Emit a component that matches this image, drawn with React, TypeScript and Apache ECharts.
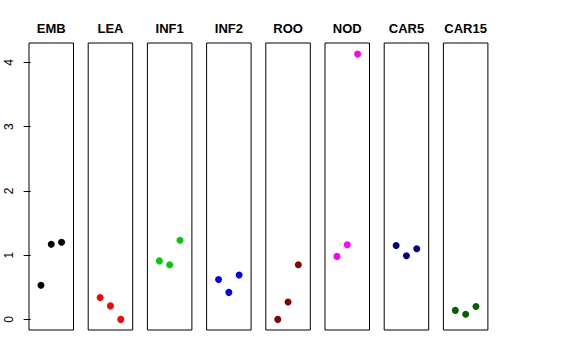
import React, { useEffect, useRef } from "react";
import * as echarts from "echarts";

const categories = ["EMB", "LEA", "INF1", "INF2", "ROO", "NOD", "CAR5", "CAR15"];
const colors = ["#000000", "#FF0000", "#00CD00", "#0000FF", "#8B0000", "#FF00FF", "#00008B", "#006400"];
const xPositions = [1, 2, 3];
const valuesEMB = [0.53, 1.17, 1.2];
const valuesLEA = [0.34, 0.21, 0.0];
const valuesINF1 = [0.91, 0.85, 1.23];
const valuesINF2 = [0.62, 0.42, 0.69];
const valuesROO = [0.0, 0.27, 0.85];
const valuesNOD = [0.98, 1.16, 4.13];
const valuesCAR5 = [1.15, 0.99, 1.1];
const valuesCAR15 = [0.14, 0.08, 0.2];
const yTicks = [0, 1, 2, 3, 4];

const allValues = [valuesEMB, valuesLEA, valuesINF1, valuesINF2, valuesROO, valuesNOD, valuesCAR5, valuesCAR15];

export default function App() {
  const ref = useRef<HTMLDivElement>(null);
  useEffect(() => {
    if (!ref.current) return;
    const chart = echarts.init(ref.current, null, { renderer: "svg" });
    const left0 = 29;
    const step = 59.2;
    const w = 44.5;
    const top = 43;
    const h = 287;
    const yMin = -0.165;
    const yMax = 4.3;
    const grids = categories.map((_, i) => ({
      left: left0 + i * step,
      top,
      width: w,
      height: h,
      show: true,
      borderColor: "#000",
      borderWidth: 1,
      backgroundColor: "transparent",
    }));
    const xAxes = categories.map((_, i) => ({
      type: "value",
      gridIndex: i,
      min: -0.16,
      max: 4.16,
      show: false,
    }));
    const yAxes = categories.map((_, i) => ({
      type: "value",
      gridIndex: i,
      min: yMin,
      max: yMax,
      show: i === 0,
      splitLine: { show: false },
      axisLine: { show: false },
      axisTick: {
        show: i === 0,
        customValues: yTicks,
        length: 7,
        lineStyle: { color: "#000", width: 1 },
      },
      axisLabel: {
        show: i === 0,
        customValues: yTicks,
        rotate: 90,
        margin: 14,
        color: "#000",
        fontSize: 12,
        fontFamily: "Liberation Sans, Arial, sans-serif",
      },
    }));
    const series = categories.map((name, i) => ({
      type: "scatter",
      name,
      xAxisIndex: i,
      yAxisIndex: i,
      symbol: "circle",
      symbolSize: 7,
      itemStyle: { color: colors[i], opacity: 1 },
      data: xPositions.map((x, j) => [x, allValues[i][j]]),
    }));
    const titles = categories.map((name, i) => ({
      text: name,
      left: left0 + i * step + w / 2,
      top: 22,
      textAlign: "center",
      textStyle: {
        fontSize: 13,
        fontWeight: "bold",
        color: "#000",
        fontFamily: "Liberation Sans, Arial, sans-serif",
      },
      padding: 0,
    }));
    chart.setOption({
      animation: false,
      backgroundColor: "#fff",
      title: titles,
      grid: grids,
      xAxis: xAxes,
      yAxis: yAxes,
      series,
    });
    return () => chart.dispose();
  }, []);
  return (
    <div
      ref={ref}
      style={{ position: "fixed", left: 0, top: 0, width: 576, height: 360 }}
    />
  );
}
